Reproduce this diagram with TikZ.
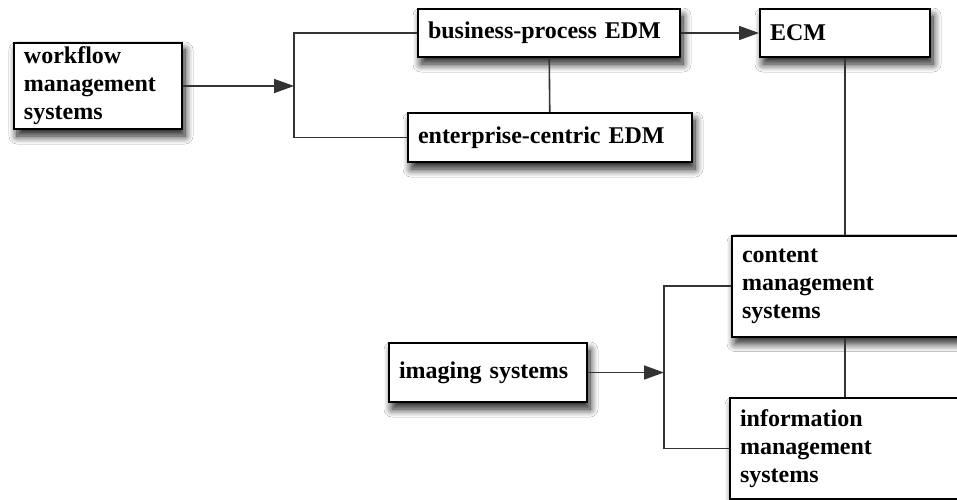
\documentclass[tikz,border=0pt]{standalone}
\usepackage{fontspec}
\setmainfont{Liberation Serif}
\usetikzlibrary{arrows.meta,shadows.blur}
\tikzset{
  sysbox/.style={draw=black, line width=1pt, fill=white, rectangle,
    align=left, inner xsep=5pt, inner ysep=2pt,
    font=\fontsize{12}{14}\selectfont\bfseries,
    blur shadow={shadow xshift=1.5pt, shadow yshift=-3.5pt,
      shadow blur radius=4pt, shadow blur steps=10, shadow opacity=90}},
  link/.style={draw=black!80, line width=0.8pt},
  arr/.style={link, -{Triangle[length=10pt,width=7pt]}}
}
\begin{document}
\begin{tikzpicture}[x=0.5pt,y=-0.5pt]
  \clip (0,0) rectangle (957,499);
  \fill[white] (0,0) rectangle (957,499);
  % boxes
  \node[sysbox, text width=74pt, minimum height=42pt] (wfm) at (98,86)
    {workflow\\management\\systems};
  \node[sysbox, text width=121pt, minimum height=24pt] (bp) at (549,33)
    {business-process EDM};
  \node[sysbox, text width=132pt, minimum height=24.5pt] (ec) at (550,137.5)
    {enterprise-centric EDM};
  \node[sysbox, text width=75pt, minimum height=24pt] (ecm) at (845,33)
    {ECM};
  \node[sysbox, text width=89pt, minimum height=29.5pt] (img) at (488,372.5)
    {imaging systems};
  \node[sysbox, text width=111.5pt, minimum height=50.5pt] (cms) at (853.5,286)
    {content\\management\\systems};
  \node[sysbox, text width=112.5pt, minimum height=50.5pt] (ims) at (852.5,448.5)
    {information\\management\\systems};
  % bracket points
  \coordinate (br1) at (294,86);
  \coordinate (br2) at (664,372.5);
  % connectors
  \draw[arr] (wfm) -- (br1);
  \draw[link] (bp.west) -| (br1) |- (ec.west);
  \draw[link] (bp) -- (ec);
  \draw[arr] (bp) -- (ecm);
  \draw[link] (ecm.south) -- (ecm.south |- cms.north);
  \draw[link] (cms.south -| ecm.south) -- (ims.north -| ecm.south);
  \draw[arr] (img) -- (br2);
  \draw[link] (cms.west) -| (br2) |- (ims.west);
\end{tikzpicture}
\end{document}
